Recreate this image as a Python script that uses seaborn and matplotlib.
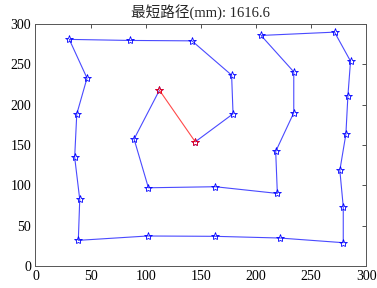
import matplotlib
matplotlib.use("Agg")
import matplotlib.pyplot as plt
import seaborn as sns
import pandas as pd

# route coordinates (mm), in visiting order
xs = [145, 179.3, 178, 142, 85.9, 30.7, 46.8, 37.5, 35.6, 40.2, 38.9, 101.7, 162.9,
      221.6, 279.3, 279.3, 276.2, 281.7, 283.5, 285.9, 271.4, 204.7, 234.4, 234.4,
      218, 219.5, 163.2, 102.5, 89.5, 112.5]
ys = [154, 188.7, 236.7, 279.2, 279.7, 281, 233, 188.4, 134.7, 82.6, 31.8, 37.2, 36.8,
      34.7, 28.9, 73.5, 118.6, 163.6, 210.7, 254, 290, 285.9, 240.8, 190,
      142, 90, 98.3, 97, 157.4, 218]
close_x = [xs[-1], xs[0]]
close_y = [ys[-1], ys[0]]
title_text = "最短路径(mm): 1616.6"
xticks = [0, 50, 100, 150, 200, 250, 300]
yticks = [0, 50, 100, 150, 200, 250, 300]

sns.set_style("white")
plt.rcParams['font.family'] = ['Liberation Serif', 'Noto Sans CJK SC']

fig = plt.figure(figsize=(3.77, 2.88), dpi=100)
ax = fig.add_axes([0.094, 0.0764, 0.877, 0.840])

df = pd.DataFrame({"x": xs, "y": ys})
sns.lineplot(data=df, x="x", y="y", sort=False, estimator=None, ax=ax,
             color="#4a4aff", linewidth=0.8, marker="*", markersize=6,
             markerfacecolor="none", markeredgecolor="blue", markeredgewidth=0.6)
dfc = pd.DataFrame({"x": close_x, "y": close_y})
sns.lineplot(data=dfc, x="x", y="y", sort=False, estimator=None, ax=ax,
             color="#ff4a4a", linewidth=0.8, marker="*", markersize=6,
             markerfacecolor="none", markeredgecolor="red", markeredgewidth=0.6)

ax.set_xlim(0, 300)
ax.set_ylim(0, 300)
ax.set_xticks(xticks)
ax.set_yticks(yticks)
ax.set_xlabel("")
ax.set_ylabel("")
ax.tick_params(direction="in", length=3, width=0.6, top=True, right=True,
               labelsize=10, colors="#333333", labelcolor="black", pad=3)
for s in ax.spines.values():
    s.set_color("#555555")
    s.set_linewidth(0.7)
ax.set_title(title_text, fontsize=10.5, pad=5)

fig.savefig("out.png", dpi=100)
